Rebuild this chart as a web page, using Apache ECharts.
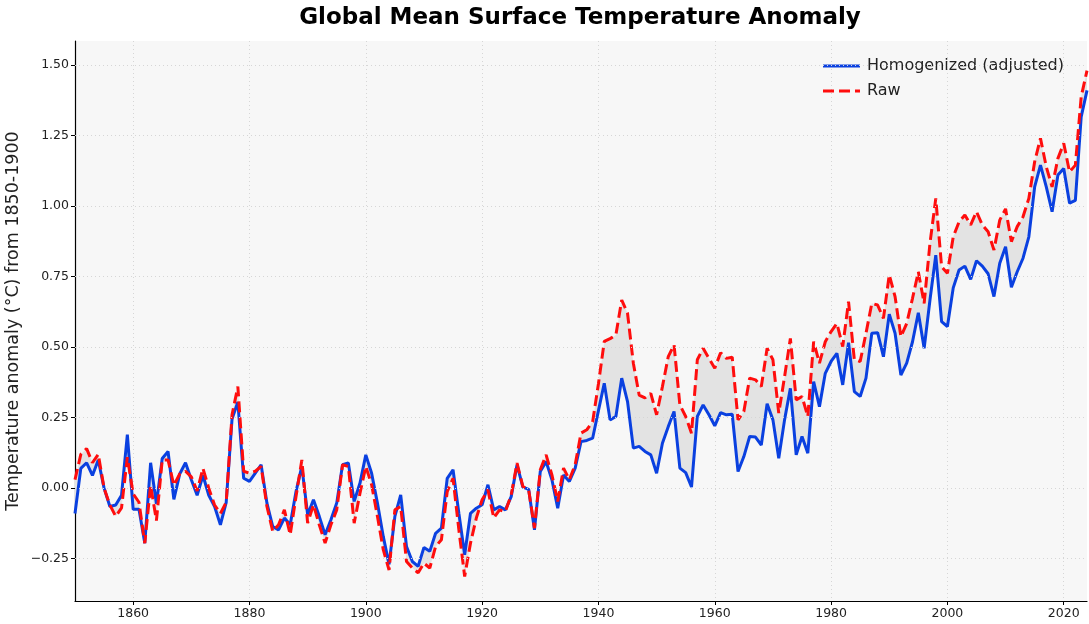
<!DOCTYPE html>
<html>
<head>
<meta charset="utf-8">
<title>Global Mean Surface Temperature Anomaly</title>
<script src="https://cdn.jsdelivr.net/npm/echarts@6/dist/echarts.min.js"></script>
<style>
  html, body { margin: 0; padding: 0; background: #fff; }
  #chart { width: 1089px; height: 624px; }
</style>
</head>
<body>
<div id="chart"></div>
<script>
var firstYear = 1850;
var lastYear = 2024;

// homogenized (adjusted) series, 1850..2024
var homogenized = [
  -0.09, 0.07, 0.09, 0.045, 0.10, 0.0, -0.065, -0.06, -0.025, 0.19,
  -0.075, -0.075, -0.195, 0.09, -0.055, 0.105, 0.13, -0.04, 0.05, 0.09,
  0.03, -0.025, 0.045, -0.025, -0.065, -0.13, -0.05, 0.245, 0.305, 0.035,
  0.024, 0.053, 0.083, -0.053, -0.136, -0.148, -0.106, -0.13, -0.012, 0.077,
  -0.094, -0.041, -0.10, -0.165, -0.112, -0.053, 0.083, 0.089, -0.047, 0.018,
  0.118, 0.053, -0.053, -0.171, -0.27, -0.10, -0.024, -0.207, -0.26, -0.277,
  -0.21, -0.224, -0.16, -0.142, 0.035, 0.065, -0.089, -0.236, -0.089, -0.071,
  -0.059, 0.012, -0.077, -0.065, -0.077, -0.03, 0.083, 0.004, -0.004, -0.148,
  0.059, 0.094, 0.03, -0.071, 0.047, 0.024, 0.071, 0.165, 0.169, 0.177,
  0.275, 0.372, 0.242, 0.254, 0.39, 0.307, 0.142, 0.148, 0.13, 0.118,
  0.053, 0.159, 0.218, 0.272, 0.071, 0.055, 0.004, 0.254, 0.295, 0.26,
  0.221, 0.268, 0.26, 0.262, 0.059, 0.112, 0.183, 0.181, 0.153, 0.299,
  0.242, 0.106, 0.242, 0.354, 0.118, 0.183, 0.124, 0.378, 0.289, 0.407,
  0.449, 0.478, 0.366, 0.516, 0.342, 0.325, 0.39, 0.549, 0.551, 0.466,
  0.617, 0.549, 0.401, 0.443, 0.519, 0.622, 0.496, 0.667, 0.826, 0.59,
  0.573, 0.71, 0.773, 0.787, 0.74, 0.806, 0.787, 0.76, 0.679, 0.797,
  0.856, 0.712, 0.767, 0.815, 0.891, 1.068, 1.145, 1.068, 0.98, 1.11,
  1.133, 1.01, 1.02, 1.316, 1.41
];

// raw series, 1850..2024
var raw = [
  0.03, 0.12, 0.14, 0.09, 0.12, 0.0, -0.06, -0.10, -0.07, 0.11,
  -0.02, -0.05, -0.195, 0.01, -0.115, 0.10, 0.10, 0.01, 0.05, 0.06,
  0.04, -0.01, 0.07, 0.0, -0.06, -0.09, -0.05, 0.26, 0.36, 0.06,
  0.053, 0.06, 0.077, -0.065, -0.153, -0.13, -0.077, -0.165, -0.03, 0.10,
  -0.124, -0.059, -0.13, -0.195, -0.13, -0.077, 0.083, 0.077, -0.124, -0.018,
  0.077, 0.012, -0.10, -0.218, -0.29, -0.077, -0.065, -0.26, -0.283, -0.30,
  -0.266, -0.283, -0.207, -0.183, -0.012, 0.035, -0.148, -0.313, -0.195, -0.106,
  -0.041, -0.006, -0.106, -0.077, -0.083, -0.024, 0.089, 0.006, -0.006, -0.142,
  0.065, 0.118, 0.047, -0.047, 0.071, 0.03, 0.083, 0.195, 0.207, 0.235,
  0.37, 0.52, 0.53, 0.543, 0.667, 0.62, 0.443, 0.33, 0.32, 0.336,
  0.26, 0.36, 0.466, 0.508, 0.295, 0.254, 0.195, 0.455, 0.496, 0.46,
  0.425, 0.48, 0.46, 0.464, 0.242, 0.272, 0.39, 0.384, 0.36, 0.496,
  0.455, 0.266, 0.395, 0.531, 0.313, 0.325, 0.254, 0.519, 0.443, 0.519,
  0.555, 0.584, 0.502, 0.661, 0.455, 0.449, 0.549, 0.655, 0.649, 0.602,
  0.756, 0.679, 0.537, 0.584, 0.673, 0.767, 0.655, 0.868, 1.027, 0.785,
  0.762, 0.891, 0.944, 0.968, 0.933, 0.98, 0.933, 0.909, 0.844, 0.95,
  0.99, 0.874, 0.927, 0.962, 1.027, 1.157, 1.24, 1.139, 1.068, 1.169,
  1.222, 1.121, 1.145, 1.387, 1.48
];

var xTicks = [1860, 1880, 1900, 1920, 1940, 1960, 1980, 2000, 2020];
var yTicks = [-0.25, 0, 0.25, 0.5, 0.75, 1.0, 1.25, 1.5];

var years = [];
for (var y = firstYear; y <= lastYear; y++) { years.push(String(y)); }

// band between the two curves (stacked: lower edge + gap)
var lower = [];
var gap = [];
for (var i = 0; i < years.length; i++) {
  lower.push(Math.min(homogenized[i], raw[i]));
  gap.push(Math.abs(raw[i] - homogenized[i]));
}

var blue = '#0a40e0';
var red = '#ff0d0d';
var gridLine = { color: '#d6d6d6', type: [1, 3], width: 1 };
var font = 'DejaVu Sans';
// legend swatches: solid bar and three dashes
var solidIcon = 'path://M0,0H37V3H0Z';
var dashIcon = 'path://M0,0H11V3H0Z M16,0H27V3H16Z M32,0H37V3H32Z';

function isTick(idx, val) {
  return xTicks.indexOf(Number(val)) >= 0;
}

var chart = echarts.init(document.getElementById('chart'));
var option = {
  animation: false,
  backgroundColor: '#ffffff',
  title: {
    text: 'Global Mean Surface Temperature Anomaly',
    left: 575,
    top: 2,
    textAlign: 'center',
    textStyle: { fontFamily: font, fontSize: 23, fontWeight: 'bold', color: '#000' }
  },
  legend: {
    data: [
      { name: 'Homogenized (adjusted)', icon: solidIcon, itemStyle: { color: blue } },
      { name: 'Raw', icon: dashIcon, itemStyle: { color: red } }
    ],
    orient: 'vertical',
    left: 818,
    top: 53,
    itemWidth: 37,
    itemHeight: 3,
    itemGap: 9,
    textStyle: { fontFamily: font, fontSize: 16, color: '#222', lineHeight: 16, padding: [0, 0, 0, 2] }
  },
  grid: {
    left: 75, right: 2, top: 41, bottom: 23,
    outerBoundsMode: 'none',
    containLabel: false,
    show: true, backgroundColor: '#f7f7f7', borderWidth: 0
  },
  xAxis: {
    type: 'category',
    data: years,
    boundaryGap: false,
    axisLine: { show: true, onZero: false, lineStyle: { color: '#000', width: 1.2 } },
    axisTick: { show: true, interval: isTick, length: 4, lineStyle: { color: '#000' } },
    axisLabel: { interval: isTick, margin: 6, fontFamily: font, fontSize: 12.5, color: '#222' },
    splitLine: { show: true, interval: isTick, lineStyle: gridLine }
  },
  yAxis: {
    type: 'value',
    min: -0.40,
    max: 1.585,
    name: 'Temperature anomaly (°C) from 1850-1900',
    nameLocation: 'middle',
    nameGap: 53,
    nameMoveOverlap: false,
    nameTextStyle: { fontFamily: font, fontSize: 17.5, color: '#222' },
    axisLine: { show: true, lineStyle: { color: '#000', width: 1.2 } },
    axisTick: { show: true, customValues: yTicks, length: 4, lineStyle: { color: '#000' } },
    axisLabel: {
      customValues: yTicks, margin: 6, fontFamily: font, fontSize: 12.5, color: '#222',
      formatter: function (v) { return v.toFixed(2).replace('-', '\u2212'); }
    },
    splitLine: { show: false }
  },
  series: [
    {
      name: 'lower',
      type: 'line',
      data: lower,
      stack: 'band',
      stackStrategy: 'all',
      symbol: 'none',
      silent: true,
      z: 1,
      lineStyle: { opacity: 0 },
      markLine: {
        silent: true,
        symbol: 'none',
        label: { show: false },
        lineStyle: gridLine,
        data: yTicks.map(function (t) { return { yAxis: t }; })
      }
    },
    {
      name: 'gap',
      type: 'line',
      data: gap,
      stack: 'band',
      stackStrategy: 'all',
      symbol: 'none',
      silent: true,
      z: 2,
      lineStyle: { opacity: 0 },
      areaStyle: { color: '#e3e3e3', opacity: 1 }
    },
    {
      name: 'Homogenized (adjusted)',
      type: 'line',
      data: homogenized,
      symbol: 'none',
      z: 3,
      lineStyle: { color: blue, width: 3 },
      itemStyle: { color: blue }
    },
    {
      name: 'Raw',
      type: 'line',
      data: raw,
      symbol: 'none',
      z: 4,
      lineStyle: { color: red, width: 3, type: [11, 5] },
      itemStyle: { color: red }
    }
  ]
};
chart.setOption(option);
window.onresize = chart.resize;
</script>
</body>
</html>
